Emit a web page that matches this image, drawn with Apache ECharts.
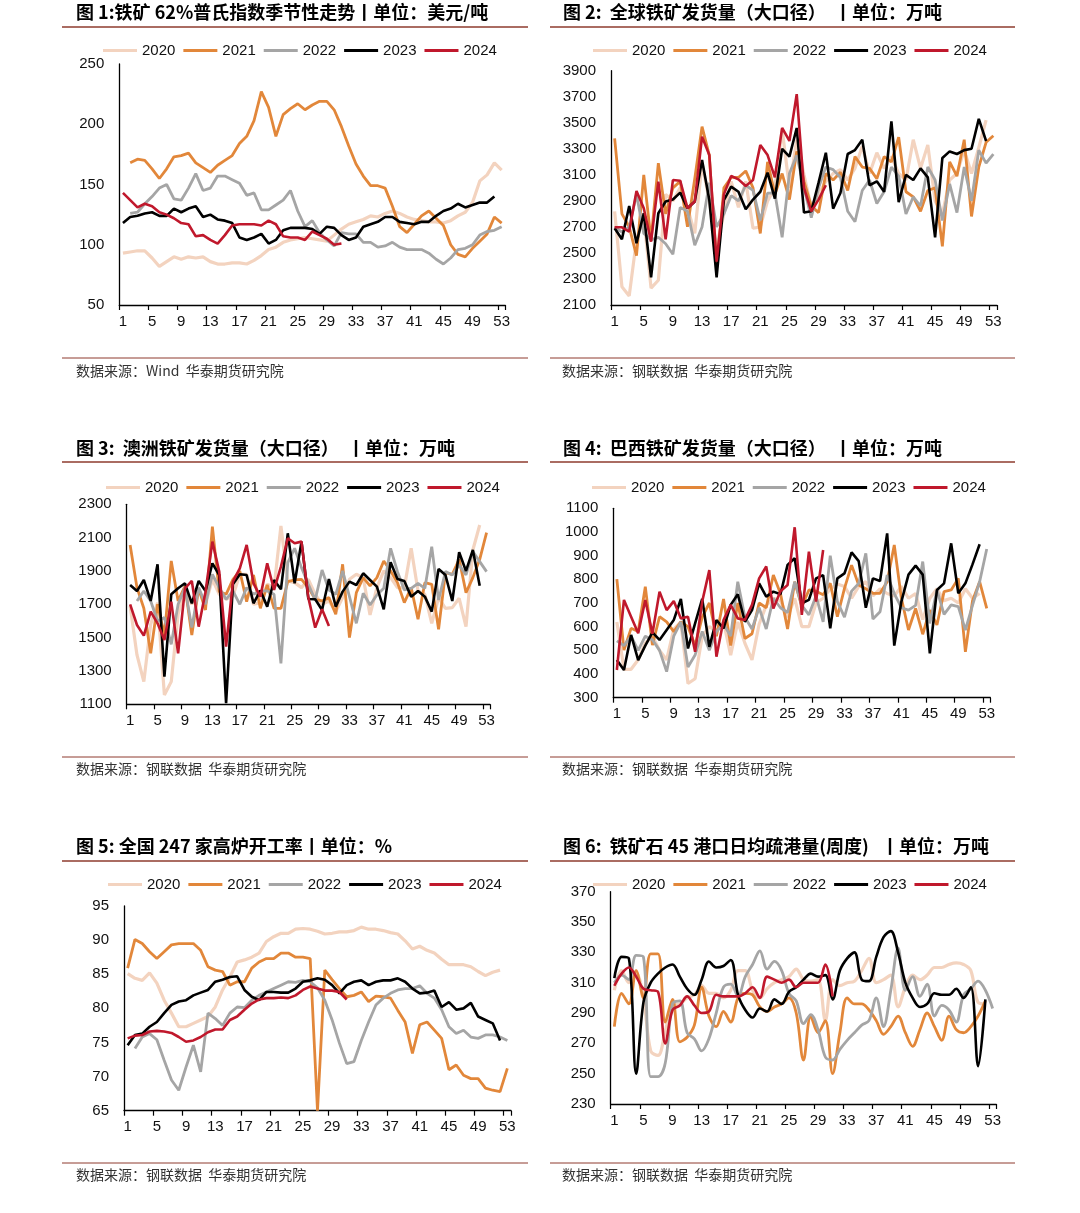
<!DOCTYPE html>
<html>
<head>
<meta charset="utf-8">
<script src="https://cdn.jsdelivr.net/npm/echarts@6/dist/echarts.min.js"></script>
<style>
html,body{margin:0;padding:0;background:#fff;}
#c{width:1080px;height:1213px;}
</style>
</head>
<body>
<div id="c"></div>
<script>
const weeks = ['1','2','3','4','5','6','7','8','9','10','11','12','13','14','15','16','17','18','19','20','21','22','23','24','25','26','27','28','29','30','31','32','33','34','35','36','37','38','39','40','41','42','43','44','45','46','47','48','49','50','51','52','53'];
const years = ['2020','2021','2022','2023','2024'];

// Panel 1: iron ore 62% Platts (USD/t)
const p1_2020 = [93,94,95,95,89,82,86,90,88,90,89,90,86,84,84,85,85,84,87,91,96,98,102,104,105,106,105,104,103,108,113,117,119,121,124,123,126,128,126,123,121,120,119,119,118,120,124,127,135,153,158,168,162];
const p1_2021 = [null,168,171,170,163,155,163,173,174,176,168,164,160,166,170,174,184,190,203,227,214,190,208,213,217,212,216,219,219,212,198,182,167,157,149,149,147,132,115,110,117,124,128,122,116,100,92,90,97,103,109,123,118];
const p1_2022 = [null,126,127,134,140,147,150,138,137,147,159,145,147,157,157,154,151,141,143,129,129,133,137,145,128,115,120,110,104,99,110,109,109,102,102,98,99,102,98,96,96,96,93,88,84,89,96,97,100,108,111,112,115];
const p1_2023 = [118,123,124,126,127,124,124,130,127,130,132,123,125,121,120,118,106,104,106,109,101,104,112,114,114,114,113,109,115,114,108,104,106,115,117,119,123,123,119,118,117,119,119,124,128,130,134,131,133,135,135,140,null];
const p1_2024 = [143,137,131,134,132,127,125,122,118,117,107,108,104,101,108,116,117,117,117,116,120,117,107,106,106,104,111,108,105,100,101,null,null,null,null,null,null,null,null,null,null,null,null,null,null,null,null,null,null,null,null,null,null];

// Panel 2: global shipments (10k t)
const p2_2020 = [2820,2240,2170,2600,2780,2230,2290,2950,2900,3000,2850,2650,3190,2900,2550,2800,3050,2850,3050,2690,2700,2900,3000,3450,3000,3370,3100,2850,2950,3050,3110,3140,3060,3150,3320,3110,3270,3150,3240,3110,3060,3370,3150,3330,2900,2800,3060,3110,3290,3110,3310,3520,null];
const p2_2021 = [3380,2800,2700,2480,3100,2600,3190,2800,3000,3050,2700,3070,3470,3250,2380,3000,3080,3080,3130,3000,2650,3200,2950,3110,2910,3280,3050,2860,2810,3110,3060,3120,2980,3240,3160,3150,3070,3240,3200,3390,2970,2930,2820,2980,3000,2550,3200,3090,3370,2780,3160,3350,3400];
const p2_2022 = [2700,2660,2700,2950,2650,2600,2620,2570,2490,2850,2820,2560,2700,3040,2700,2800,2940,2900,3020,2980,2750,2960,2960,2620,3110,3250,3000,2770,3000,3160,3140,3080,2820,2740,2980,3060,2880,2970,3160,3090,2800,2930,2860,3160,3060,2750,3030,2810,3160,2900,3290,3190,3260];
const p2_2023 = [2690,2605,2860,2575,2805,2313,2805,2895,2910,2963,2843,2895,3214,2906,2313,2906,3009,2970,2835,2910,2970,3117,2918,3300,3240,3460,2810,2820,3040,3270,2840,2960,3260,3290,3370,3020,3050,2970,3510,2890,3100,3060,3150,3080,2620,3230,3280,3260,3290,3300,3530,3360,null];
const p2_2024 = [2697,2697,2664,2976,2843,2587,3048,2605,3060,3055,2843,2895,3393,3252,2433,2950,3091,3065,3014,3060,3330,3252,3081,3460,3360,3720,3000,2820,2910,3020,null,null,null,null,null,null,null,null,null,null,null,null,null,null,null,null,null,null,null,null,null,null,null];

// Panel 3: Australia shipments (10k t)
const p3_2020 = [1690,1396,1236,1580,1710,1156,1236,1640,1800,1700,1780,1700,1850,1760,1730,1750,1880,1880,1700,1710,1820,1800,2170,1840,1830,1800,1850,1760,1700,1720,1656,1740,1850,1880,1860,1636,1800,1900,1860,1800,1800,2036,1780,1760,1586,1740,1676,1680,1736,1566,2026,2176,null];
const p3_2021 = [2056,1800,1676,1406,1700,1516,1960,1720,1810,1516,1796,1666,2166,1776,1760,1850,1900,1716,1876,1676,1816,1676,1676,1836,1846,1850,1800,1730,1720,1740,1640,1940,1500,1770,1860,1810,1860,1960,1900,1830,1710,1800,1610,1830,1820,1550,1890,1880,1970,1770,1860,1970,2130];
const p3_2022 = [null,1720,1780,1720,1600,1620,1460,1700,1800,1560,1800,1700,1880,1800,1730,1780,1700,1800,1760,1780,1780,1760,1346,1950,2036,1920,1820,1726,1906,1786,1760,1900,1746,1586,1766,1696,1756,1796,2036,1896,1786,1796,1826,1796,2046,1726,1896,1876,1936,1876,2016,1956,1896];
const p3_2023 = [1816,1780,1846,1720,1940,1266,1760,1796,1826,1706,1840,1780,1946,1876,1106,1820,1880,1876,1706,1782,1686,1846,1790,2126,1826,2076,1732,1730,1666,1852,1686,1776,1836,1816,1886,1846,1806,1670,1952,1852,1840,1746,1780,1746,1656,1912,1876,1720,2012,1900,2026,1812,null];
const p3_2024 = [1700,1576,1512,1656,1586,1486,1716,1406,1796,1840,1566,1776,2076,1896,1446,1836,1916,2056,1826,1746,1946,1786,1926,2096,2066,2076,1740,1560,1670,1570,null,null,null,null,null,null,null,null,null,null,null,null,null,null,null,null,null,null,null,null,null,null,null];

// Panel 4: Brazil shipments (10k t)
const p4_2020 = [620,420,420,460,530,560,500,460,590,620,360,380,560,600,580,620,480,620,530,460,610,690,720,710,640,720,600,600,700,720,760,780,770,720,770,790,730,760,740,730,770,720,740,630,720,760,710,720,700,760,720,740,null];
const p4_2021 = [801,501,593,580,769,522,642,620,579,620,600,520,640,700,560,717,520,700,550,570,700,680,818,740,590,790,685,755,750,735,783,642,762,860,776,760,741,741,790,945,720,586,677,568,670,607,748,755,804,494,710,790,677];
const p4_2022 = [540,520,560,500,560,545,500,410,560,620,430,480,580,500,580,610,560,790,640,590,680,590,720,680,660,790,690,650,730,620,900,706,640,750,783,910,632,663,818,740,680,670,690,875,614,755,652,692,685,586,690,790,928];
const p4_2023 = [459,417,565,459,520,576,544,586,628,717,508,614,717,515,628,593,692,737,621,670,783,727,748,737,861,889,699,713,804,818,593,804,825,914,877,680,804,793,994,520,706,820,858,820,487,755,783,952,741,783,863,948,null];
const p4_2024 = [417,713,642,572,713,570,748,670,708,635,642,494,706,839,473,628,692,635,628,692,804,854,677,750,776,1020,650,917,706,924,null,null,null,null,null,null,null,null,null,null,null,null,null,null,null,null,null,null,null,null,null,null,null];

// Panel 5: 247 blast furnace utilisation (%)
const p5_2020 = [85.1,84.4,84.1,85.2,83.7,81.2,79.3,77.3,77.3,77.8,78.3,78.8,80.2,82.7,84.6,86.8,87.1,87.5,88.1,89.8,90.5,91.0,91.0,91.6,91.7,91.6,91.3,90.9,91.0,91.2,91.2,91.4,91.9,91.6,91.6,91.4,91.1,90.9,89.9,88.7,89.1,88.5,88.1,87.2,86.4,86.4,86.4,86.1,85.4,84.8,85.3,85.6,null];
const p5_2021 = [85.9,90.1,89.5,88.3,87.3,88.3,89.3,89.5,89.5,89.5,88.5,86.1,85.6,85.4,83.4,83.9,83.9,85.9,86.8,87.3,87.3,88.1,88.1,87.5,87.5,87.3,65.0,85.6,84.2,82.9,81.7,81.9,82.4,81.0,81.8,81.7,81.5,79.7,78.0,73.4,77.6,78.0,76.8,75.6,71.0,71.7,70.2,69.7,69.7,68.3,68.0,67.8,71.2];
const p5_2022 = [null,74.1,75.8,76.3,75.4,72.4,69.5,68.0,71.4,74.6,70.7,79.3,78.5,77.5,79.3,80.2,80.1,81.2,81.9,82.4,82.9,83.4,83.9,83.8,84.1,83.9,83.0,81.2,78.3,74.9,71.9,72.2,75.3,78.0,80.5,81.5,82.2,82.7,82.9,82.9,83.3,82.2,81.5,79.8,77.3,76.3,76.8,75.8,75.6,76.1,76.1,75.8,75.3];
const p5_2023 = [74.6,76.1,76.3,77.3,78.0,79.3,80.5,81.0,81.2,81.9,82.3,82.7,83.9,84.2,84.6,84.7,82.7,81.7,81.2,82.4,82.4,82.3,82.3,82.9,83.9,84.1,84.4,84.2,83.4,82.2,83.4,83.9,84.1,83.4,83.9,84.1,84.1,84.4,83.9,82.9,82.2,82.3,82.6,80.2,80.9,79.8,80.0,80.8,78.8,78.3,77.8,75.3,null];
const p5_2024 = [75.6,76.0,76.1,76.6,76.7,76.6,76.4,75.8,75.1,75.3,75.8,76.5,76.9,76.9,78.3,78.8,79.8,80.7,81.3,81.5,81.5,81.6,81.5,81.9,82.7,83.2,82.9,82.6,82.6,82.4,81.3,null,null,null,null,null,null,null,null,null,null,null,null,null,null,null,null,null,null,null,null,null,null];

// Panel 6: 45-port daily average outbound (10k t)
const p6_2020 = [305,318,310,316,300,265,262,278,295,296,300,302,308,303,303,300,305,318,318,305,300,306,310,312,314,319,312,311,312,285,312,308,310,311,318,326,310,312,315,294,307,315,312,315,320,320,322,323,322,318,297,296,null];
const p6_2021 = [281,303,296,318,300,329,329,284,299,271,274,282,307,288,281,291,284,300,303,302,294,291,294,296,300,290,259,288,277,285,250,277,300,296,296,292,285,276,281,288,277,268,279,290,281,272,288,279,277,281,288,298,null];
const p6_2022 = [310,315,312,328,327,248,248,257,296,298,277,273,265,273,290,307,309,301,314,322,331,319,324,318,303,298,283,289,279,261,259,266,272,277,282,285,300,281,305,333,305,314,301,309,288,295,292,284,302,306,311,305,293];
const p6_2023 = [313,327,326,250,297,310,316,320,322,314,306,302,312,324,320,321,325,302,292,287,293,291,299,296,304,307,312,316,314,315,299,318,326,330,312,311,327,340,344,330,310,300,294,296,303,302,302,306,300,307,255,299,null];
const p6_2024 = [308,316,320,314,306,305,304,270,292,295,301,295,290,291,302,301,301,301,303,307,300,314,312,310,312,307,310,310,310,322,301,null,null,null,null,null,null,null,null,null,null,null,null,null,null,null,null,null,null,null,null,null,null];

const titles = [
  '图 1:铁矿 62%普氏指数季节性走势丨单位：美元/吨',
  '图 2:  全球铁矿发货量（大口径）  丨单位：万吨',
  '图 3:  澳洲铁矿发货量（大口径）  丨单位：万吨',
  '图 4:  巴西铁矿发货量（大口径）  丨单位：万吨',
  '图 5: 全国 247 家高炉开工率丨单位：%',
  '图 6:  铁矿石 45 港口日均疏港量(周度)   丨单位：万吨'
];
const sources = [
  '数据来源：Wind  华泰期货研究院',
  '数据来源：钢联数据  华泰期货研究院',
  '数据来源：钢联数据  华泰期货研究院',
  '数据来源：钢联数据  华泰期货研究院',
  '数据来源：钢联数据  华泰期货研究院',
  '数据来源：钢联数据  华泰期货研究院'
];

const panelData = [
  [p1_2020,p1_2021,p1_2022,p1_2023,p1_2024],
  [p2_2020,p2_2021,p2_2022,p2_2023,p2_2024],
  [p3_2020,p3_2021,p3_2022,p3_2023,p3_2024],
  [p4_2020,p4_2021,p4_2022,p4_2023,p4_2024],
  [p5_2020,p5_2021,p5_2022,p5_2023,p5_2024],
  [p6_2020,p6_2021,p6_2022,p6_2023,p6_2024]
];

// layout (pixels)
const grids = [
  {left:119.3, top:64,    width:386,   height:241},
  {left:611,   top:70.7,  width:386,   height:234.3},
  {left:126.7, top:504.3, width:363.3, height:200},
  {left:613.3, top:508.3, width:377,   height:189.4},
  {left:124,   top:906,   width:387,   height:204.7},
  {left:610.7, top:891.7, width:385.6, height:212.3}
];
const yCfg = [
  {min:50,   max:250,  interval:50,  step:50,  base:50},
  {min:2100, max:3900, interval:100, step:200, base:2100},
  {min:1100, max:2300, interval:100, step:200, base:1100},
  {min:300,  max:1100, interval:100, step:100, base:300},
  {min:65,   max:95,   interval:5,   step:5,   base:65},
  {min:230,  max:370,  interval:10,  step:20,  base:230}
];
const legendPos = [
  {left:103, top:43},{left:593, top:43},
  {left:106, top:480},{left:592, top:480},
  {left:108, top:877},{left:593, top:877}
];
const titlePos = [[76,13],[563,13],[76,449],[563,449],[76,847],[563,847]];
const rulePos = [[62,528,27,358,373],[550,1015,27,358,373],[62,528,462,757,771],[550,1015,462,757,771],[62,528,861,1163,1177],[550,1015,861,1163,1177]];

const colors = ['#F3D3BF','#E2873A','#A5A5A5','#000000','#C0182C'];
const widths = [3.2,2.8,2.8,2.6,2.6];
const FONT = 'Liberation Sans, Arial, sans-serif';

const option = {
  backgroundColor:'#fff',
  animation:false,
  grid: grids.map(g => Object.assign({containLabel:false}, g)),
  xAxis: grids.map((g,i) => ({
    type:'category', gridIndex:i, data:weeks, boundaryGap:true,
    axisLine:{show:true, lineStyle:{color:'#000', width:1.3}},
    axisTick:{show:true, interval:3, length:5, lineStyle:{color:'#000', width:1.2}},
    axisLabel:{interval:3, margin:9, fontSize:15, color:'#111', fontFamily:FONT},
    splitLine:{show:false}
  })),
  yAxis: yCfg.map((c,i) => ({
    type:'value', gridIndex:i, min:c.min, max:c.max, interval:c.interval,
    axisLine:{show:true, lineStyle:{color:'#000', width:1.3}},
    axisTick:{show:false},
    splitLine:{show:false},
    axisLabel:{margin:15, fontSize:15, color:'#111', fontFamily:FONT,
      formatter: v => (Math.round(v - c.base) % c.step === 0) ? String(v) : ''}
  })),
  legend: legendPos.map(p => ({
    left:p.left, top:p.top, padding:0, data:years, icon:'rect',
    itemWidth:34, itemHeight:3, itemGap:8,
    textStyle:{fontSize:15, color:'#111', fontFamily:FONT},
    selectedMode:false
  })),
  series: [],
  graphic: []
};

panelData.forEach((arr, pi) => {
  arr.forEach((d, yi) => {
    option.series.push({
      name: years[yi], type:'line', xAxisIndex:pi, yAxisIndex:pi, data:d,
      symbol:'none', showSymbol:false, connectNulls:false,
      smooth: pi === 5 ? 0.35 : false,
      lineStyle:{color:colors[yi], width:widths[yi]},
      itemStyle:{color:colors[yi]},
      z: 2 + yi
    });
  });
});

titlePos.forEach((p,i) => {
  option.graphic.push({type:'text', left:p[0], top:p[1]-10, style:{text:titles[i], fill:'#000', font:'bold 18px "Noto Sans CJK SC", sans-serif'}});
});
rulePos.forEach((r,i) => {
  option.graphic.push({type:'line', shape:{x1:r[0], y1:r[2], x2:r[1], y2:r[2]}, style:{stroke:'#8E3B2E', lineWidth:1.5}});
  option.graphic.push({type:'line', shape:{x1:r[0], y1:r[3], x2:r[1], y2:r[3]}, style:{stroke:'#8E3B2E', lineWidth:1}});
  option.graphic.push({type:'text', left:(i%2===0?76:562), top:r[4]-9, style:{text:sources[i], fill:'#333', font:'14px "Noto Sans CJK SC", sans-serif'}});
});

const chart = echarts.init(document.getElementById('c'), null, {renderer:'canvas'});
chart.setOption(option);
</script>
</body>
</html>
